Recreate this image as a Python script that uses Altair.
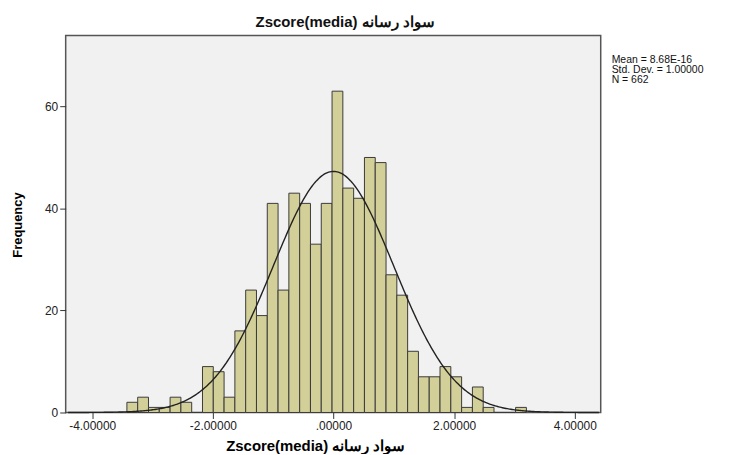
import altair as alt
import pandas as pd

# ---- data ----
counts = [2, 3, 1, 1, 3, 2, 0, 9, 8, 3, 16, 24, 19, 41, 24, 43, 41, 33, 41, 63,
          44, 42, 50, 49, 27, 23, 12, 7, 7, 9, 7, 1, 5, 1, 0, 0, 1]
bin_start = -3.425
bin_width = 0.179
stat_mean = 0.0
stat_sd = 1.0
stat_n = 662
stat_lines = ["Mean = 8.68E-16", "Std. Dev. = 1.00000", "N = 662"]
x_ticks = [-4, -2, 0, 2, 4]
y_ticks = [0, 20, 40, 60]
title_text = "Zscore(media)  سواد رسانه"

FONT = "Liberation Sans"
W, H = 538, 379

bars_df = pd.DataFrame({
    "x0": [bin_start + i * bin_width for i in range(len(counts))],
    "x1": [bin_start + (i + 1) * bin_width for i in range(len(counts))],
    "count": counts,
})

xscale = alt.Scale(domain=[-4.44, 4.43], nice=False, zero=False)
yscale = alt.Scale(domain=[0, 73.9], nice=False, zero=False)

x_axis = alt.Axis(
    values=x_ticks,
    labelExpr="datum.value == 0 ? '.00000' : (datum.value < 0 ? '-' : '') + format(abs(datum.value), '.5f')",
    title=title_text, titleFont=FONT, titleFontSize=15, titleFontWeight="bold",
    titleX=251, titleY=33, titleBaseline="middle", titleAlign="center",
    labelFont=FONT, labelFontSize=12, labelColor="#222", labelPadding=2,
    tickSize=6, tickColor="#333", domain=False, grid=False,
)
y_axis = alt.Axis(
    values=y_ticks, title="Frequency", titleFont=FONT, titleFontSize=13,
    titleFontWeight="bold", titleAngle=270, titleX=-48, titleY=190,
    titleBaseline="middle", titleAlign="center",
    labelFont=FONT, labelFontSize=12, labelColor="#222", labelPadding=2,
    tickSize=6, tickColor="#333", domain=False, grid=False,
)

bars = alt.Chart(bars_df).mark_rect(
    fill="#D3CF98", stroke="#3a3a3a", strokeWidth=1
).encode(
    x=alt.X("x0:Q", scale=xscale, axis=x_axis),
    x2="x1:Q",
    y=alt.Y("count:Q", scale=yscale, axis=y_axis),
    y2=alt.datum(0),
)

curve = alt.Chart(alt.sequence(-4.4, 4.401, 0.02, as_="z")).transform_calculate(
    dens=f"{stat_n}*{bin_width}*exp(-pow((datum.z-{stat_mean})/{stat_sd},2)/2)/({stat_sd}*sqrt(2*PI))"
).mark_line(color="#222", strokeWidth=1.4).encode(
    x=alt.X("z:Q", scale=xscale, axis=x_axis),
    y=alt.Y("dens:Q", scale=yscale, axis=y_axis),
)

stats = alt.Chart(pd.DataFrame({"k": [0]})).mark_text(
    align="left", baseline="top", font=FONT, fontSize=10.5, color="#111",
    text=stat_lines, lineHeight=10,
).encode(
    x=alt.value(549),
    y=alt.value(20),
)

title = alt.Chart(pd.DataFrame({"t": [title_text]})).mark_text(
    align="center", baseline="middle", font=FONT, fontSize=15, fontWeight="bold", color="#111"
).encode(
    x=alt.value(281), y=alt.value(-14), text="t:N"
)

chart = alt.layer(bars, curve, stats, title).resolve_scale(y="shared", x="shared").properties(
    width=W, height=H,
    autosize=alt.AutoSizeParams(type="none"),
    padding={"left": 58, "top": 26.5, "right": 130, "bottom": 40},
    background="white",
).configure_view(
    fill="#F0F1F0", stroke="#555", strokeWidth=1.5
)

chart.save("out.html", embed_options={"renderer": "svg", "actions": False})
